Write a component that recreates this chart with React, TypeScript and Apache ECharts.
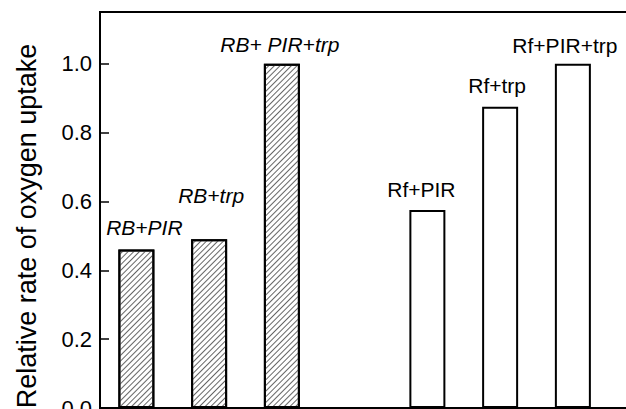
import React, { useEffect, useRef } from "react";
import * as echarts from "echarts";

const categories = ["RB+PIR", "RB+trp", "RB+ PIR+trp", "", "Rf+PIR", "Rf+trp", "Rf+PIR+trp", ""];
const values: (number | string)[] = [0.46, 0.49, 1.0, "-", 0.575, 0.875, 1.0, "-"];
const hatched = [true, true, true, false, false, false, false, false];
const labelOffsets: [number, number][] = [[8, -7], [2, -28], [-2, -4], [0, 0], [-6, -5], [-3, -6], [-8, -3], [0, 0]];
const yTicks = [0, 0.2, 0.4, 0.6, 0.8, 1.0];
const yTitle = "Relative rate of oxygen uptake";

const FONT = "'Liberation Sans', Arial, sans-serif";

export default function App() {
  const ref = useRef<HTMLDivElement>(null);
  useEffect(() => {
    if (!ref.current) return;
    const chart = echarts.init(ref.current, null, { renderer: "svg" });
    const decal = {
      symbol: "rect",
      symbolSize: 1,
      dashArrayX: [1, 0],
      dashArrayY: [1, 3],
      rotation: -Math.PI / 4,
      color: "#666",
      backgroundColor: "#fff",
    };
    const data = values.map((v, i) => ({
      value: v,
      itemStyle: hatched[i] ? { decal } : {},
      label: {
        offset: labelOffsets[i],
        fontStyle: hatched[i] ? "italic" : "normal",
      },
    }));
    chart.setOption({
      animation: false,
      grid: {
        left: 100,
        top: 12,
        right: -56,
        bottom: 1,
        outerBoundsMode: "none",
        containLabel: false,
        show: true,
        borderColor: "#000",
        borderWidth: 2,
        backgroundColor: "transparent",
      },
      xAxis: {
        type: "category",
        data: categories,
        axisLine: { lineStyle: { color: "#000", width: 2 } },
        axisTick: { inside: true, length: 7, alignWithLabel: true, interval: 0, lineStyle: { color: "#000", width: 1.5 } },
        axisLabel: { show: false },
        splitLine: { show: false },
      },
      yAxis: {
        type: "value",
        min: 0,
        max: 1.15,
        interval: 0.2,
        axisLine: { show: true, lineStyle: { color: "#000", width: 2 } },
        axisTick: { show: true, inside: true, length: 9, lineStyle: { color: "#000", width: 1.5 } },
        axisLabel: {
          color: "#000",
          fontFamily: FONT,
          fontSize: 22,
          margin: 8,
          formatter: (v: number) => (yTicks.some((t) => Math.abs(t - v) < 1e-6) ? v.toFixed(1) : ""),
        },
        splitLine: { show: false },
      },
      graphic: [
        {
          type: "text",
          x: 27,
          y: 226,
          rotation: Math.PI / 2,
          style: {
            text: yTitle,
            fontFamily: FONT,
            fontSize: 27,
            fill: "#000",
            align: "center",
            verticalAlign: "middle",
          },
        },
      ],
      series: [
        {
          type: "bar",
          data,
          barWidth: 36,
          itemStyle: { color: "#fff", borderColor: "#000", borderWidth: 2 },
          label: {
            show: true,
            position: "top",
            formatter: "{b}",
            color: "#000",
            fontFamily: FONT,
            fontSize: 21,
          },
        },
      ],
    });
    return () => chart.dispose();
  }, []);
  return <div ref={ref} style={{ width: 626, height: 409, position: "absolute", left: 0, top: 0 }} />;
}
